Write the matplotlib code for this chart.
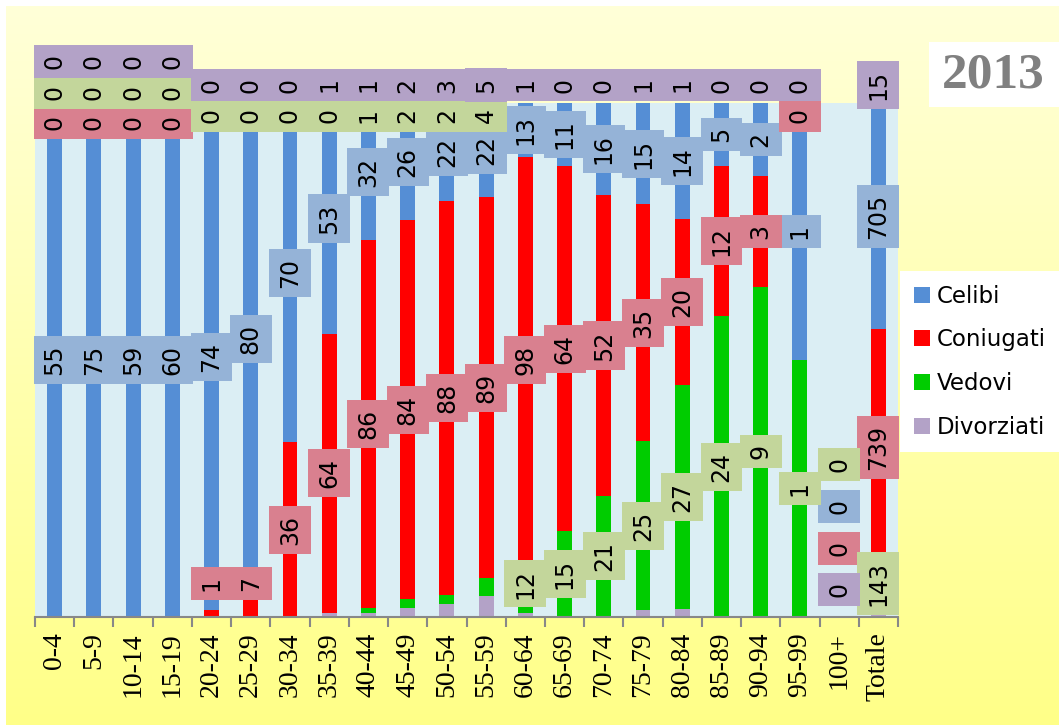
import matplotlib.pyplot as plt
import numpy as np
from matplotlib.patches import Rectangle

categories = ['0-4', '5-9', '10-14', '15-19', '20-24', '25-29', '30-34', '35-39',
              '40-44', '45-49', '50-54', '55-59', '60-64', '65-69', '70-74',
              '75-79', '80-84', '85-89', '90-94', '95-99', '100+', 'Totale']
celibi = [55, 75, 59, 60, 74, 80, 70, 53, 32, 26, 22, 22, 13, 11, 16, 15, 14, 5, 2, 1, 0, 705]
coniugati = [0, 0, 0, 0, 1, 7, 36, 64, 86, 84, 88, 89, 98, 64, 52, 35, 20, 12, 3, 0, 0, 739]
vedovi = [0, 0, 0, 0, 0, 0, 0, 0, 1, 2, 2, 4, 12, 15, 21, 25, 27, 24, 9, 1, 0, 143]
divorziati = [0, 0, 0, 0, 0, 0, 0, 1, 1, 2, 3, 5, 1, 0, 0, 1, 1, 0, 0, 0, 0, 15]
year = '2013'

W, H = 1059, 725
fig = plt.figure(figsize=(W / 100, H / 100), dpi=100)
fig.patch.set_facecolor('white')

# yellow gradient background
bg = fig.add_axes([6 / W, 0, 1 - 6 / W, 1 - 6 / H], zorder=-10)
top = np.array([255, 255, 216]) / 255
bottom = np.array([255, 255, 136]) / 255
t = np.linspace(0, 1, 256)[:, None, None]
grad = top * (1 - t) + bottom * t
bg.imshow(grad, aspect='auto', extent=[0, 1, 0, 1])
bg.axis('off')

ax = fig.add_axes([35 / W, (H - 617) / H, (898 - 35) / W, (617 - 103) / H])
ax.set_facecolor('#DBEEF4')

# stacking order bottom -> top
series = [
    ('Divorziati', divorziati, '#B3A2C7', '#B3A2C7'),
    ('Vedovi', vedovi, '#00CC00', '#C3D69B'),
    ('Coniugati', coniugati, '#FF0000', '#D9808F'),
    ('Celibi', celibi, '#558ED5', '#95B3D7'),
]

x = np.arange(len(categories))
vals = np.array([s[1] for s in series], dtype=float)
tot = vals.sum(axis=0)
frac = np.divide(vals, tot, out=np.zeros_like(vals), where=tot > 0)
bottoms = np.vstack([np.zeros(len(x)), np.cumsum(frac, axis=0)[:-1]])

bars = {}
for k, (name, v, c, bc) in enumerate(series):
    bars[name] = ax.bar(x, frac[k], bottom=bottoms[k], width=0.38, color=c, zorder=2)

# label placement, roughly like Excel's overlap handling
row = 0.059
lab_y = np.zeros_like(frac)
for i in range(len(x)):
    if tot[i] == 0:
        for j, k in enumerate([0, 2, 3, 1]):
            lab_y[k, i] = 0.053 + j * 0.081
        continue
    over = []
    for k in range(4):
        name = series[k][0]
        small = (name == 'Divorziati') or (name == 'Vedovi' and frac[k, i] < 0.05) \
            or (name == 'Coniugati' and vals[k, i] == 0)
        if small:
            over.append(k)
        else:
            lab_y[k, i] = max(bottoms[k, i] + frac[k, i] / 2, 0.065)
    start = 1.035 + max(0, len(over) - 2) * 0.045
    for j, k in enumerate(over):
        lab_y[k, i] = start - j * row

for k in [3, 2, 1, 0]:
    name, v, c, bc = series[k]
    for i in range(len(x)):
        ax.text(x[i], lab_y[k, i], str(v[i]), rotation=90, ha='center', va='center',
                fontsize=17, color='black', zorder=5,
                bbox=dict(boxstyle='square,pad=0.38', fc=bc, ec='none'))

ax.set_xlim(-0.5, len(x) - 0.5)
ax.set_ylim(0, 1)
ax.set_yticks([])
for s in ['top', 'left', 'right']:
    ax.spines[s].set_visible(False)
ax.spines['bottom'].set_color('#888888')
ax.spines['bottom'].set_linewidth(1.5)
ax.set_xticks(np.arange(len(x) + 1) - 0.5)
ax.set_xticklabels([])
ax.tick_params(axis='x', which='major', length=7, width=1.5, color='#888888')
ax.set_xticks(x, minor=True)
ax.set_xticklabels(categories, minor=True, rotation=90, fontsize=20,
                   family='Liberation Serif')
ax.tick_params(axis='x', which='minor', length=0, pad=11)

handles = [bars[n] for n in ['Celibi', 'Coniugati', 'Vedovi', 'Divorziati']]
leg = fig.legend(handles, ['Celibi', 'Coniugati', 'Vedovi', 'Divorziati'],
                 loc='upper left', bbox_to_anchor=(900 / W, (H - 271) / H),
                 fontsize=16.5, frameon=True, fancybox=False, handlelength=0.7,
                 handleheight=0.7, handletextpad=0.3, labelspacing=0.9,
                 borderpad=0.6, borderaxespad=0)
leg.get_frame().set_facecolor('white')
leg.get_frame().set_edgecolor('none')
leg.get_frame().set_alpha(1)

fig.patches.append(Rectangle((929 / W, (H - 107) / H), 130 / W, 65 / H,
                             transform=fig.transFigure, fc='white', ec='none'))
fig.text(993 / W, (H - 75) / H, year, ha='center', va='center', fontsize=37,
         fontweight='bold', family='Liberation Serif', color='#808080')

fig.savefig('out.png', dpi=100)
